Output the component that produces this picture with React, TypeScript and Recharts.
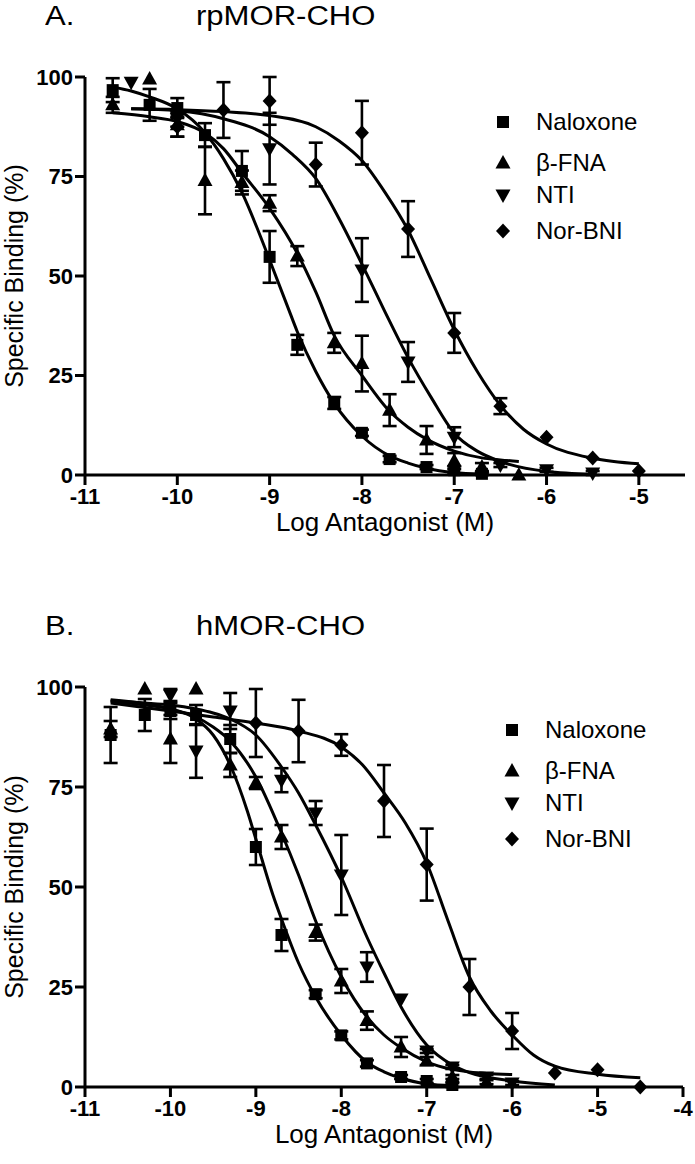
import React from 'react';
import { ComposedChart, Scatter, Line, XAxis, YAxis, ErrorBar, Label } from 'recharts';

const FONT = '"Liberation Sans", Arial, Helvetica, sans-serif';

// ---------- shared ----------
const seriesNames = ['Naloxone', 'β-FNA', 'NTI', 'Nor-BNI'];
const seriesShapes = ['square', 'triUp', 'triDown', 'diamond'];
const yTicks = [0, 25, 50, 75, 100];
const xTicksA = [-11, -10, -9, -8, -7, -6, -5];
const xTicksB = [-11, -10, -9, -8, -7, -6, -5, -4];
const xDomainA = [-11, -4.5];
const xDomainB = [-11, -4];

// ---------- Panel A: rpMOR-CHO ----------
const aNalX = [-10.7, -10.3, -10, -9.7, -9.3, -9, -8.7, -8.3, -8, -7.7, -7.3, -7, -6.7];
const aNalY = [96.7, 93.0, 92.2, 85.4, 76.4, 54.8, 32.7, 18.1, 10.6, 4.0, 2.0, 1.2, 0.3];
const aNalE = [3, 4, 2.5, 3, 5, 6.5, 2.5, 1.5, 0.8, 0.8, 0.5, 1, 0.3];

const aFnaX = [-10.7, -10.3, -10, -9.7, -9.3, -9, -8.7, -8.3, -8, -7.7, -7.3, -7, -6.7, -6.3];
const aFnaY = [93, 99.5, 88, 74, 73.5, 68.3, 55, 33.2, 28, 16.3, 8.8, 3.5, 2.0, 0];
const aFnaE = [2, 0, 3, 8.5, 3, 2, 2.5, 2.5, 7, 4, 3.5, 2, 1, 0];

const aNtiX = [-10.5, -10, -9, -8, -7.5, -7, -6.5, -6, -5.5];
const aNtiY = [98.7, 89.5, 82, 51.5, 28.4, 9.5, 2.5, 1.3, 0.5];
const aNtiE = [0, 2, 9, 8, 5, 2.5, 0.5, 0.5, 0.5];

const aBniX = [-10, -9.5, -9, -8.5, -8, -7.5, -7, -6.5, -6, -5.5, -5];
const aBniY = [87.5, 91.7, 94, 78, 86, 61.8, 35.7, 17.3, 9.5, 4.3, 1.0];
const aBniE = [2.5, 7, 6, 5.5, 8, 7, 5, 2, 0, 0, 0];

const aNalCurveX = [-10.7, -10.5, -10.3, -10, -9.7, -9.5, -9.3, -9.1, -9, -8.8, -8.7, -8.5, -8.3, -8, -7.7, -7.5, -7.3, -7, -6.7];
const aNalCurveY = [97.5, 96.5, 95, 92, 86, 79.5, 71, 60, 54, 42, 36, 26, 18, 9.8, 4.8, 3, 1.7, 0.6, 0.2];
const aFnaCurveX = [-10.7, -10.3, -10, -9.7, -9.5, -9.3, -9, -8.7, -8.5, -8.3, -8, -7.7, -7.5, -7.3, -7, -6.7, -6.5, -6.3];
const aFnaCurveY = [91, 90, 88.8, 85.9, 82, 76, 67, 55.7, 46, 35, 25, 16, 12, 9, 6, 4.3, 3.8, 3.4];
const aNtiCurveX = [-10.5, -10, -9.5, -9, -8.75, -8.5, -8.25, -8, -7.75, -7.5, -7.25, -7, -6.75, -6.5, -6, -5.5];
const aNtiCurveY = [92, 91.5, 89.5, 85, 80.5, 74.5, 64.5, 53, 41, 29.5, 19.5, 10.5, 6, 3.4, 0.9, 0.2];
const aBniCurveX = [-10.5, -10, -9.5, -9, -8.5, -8.25, -8, -7.75, -7.5, -7.25, -7, -6.75, -6.5, -6.25, -6, -5.5, -5];
const aBniCurveY = [92, 91.8, 91.3, 90.3, 87.5, 84, 79, 71, 61.5, 49, 36.5, 26, 17.5, 11.5, 7.8, 4.2, 2.8];

// ---------- Panel B: hMOR-CHO ----------
const bNalX = [-10.7, -10.3, -10, -9.7, -9.3, -9, -8.7, -8.3, -8, -7.7, -7.3, -7, -6.7];
const bNalY = [88, 93, 94, 93, 87, 60, 38, 23.2, 12.9, 5.9, 2.5, 1.5, 0.5];
const bNalE = [7, 4, 2, 2.5, 3.5, 4.5, 4, 1, 1, 0.8, 0.5, 0.5, 0.5];

const bFnaX = [-10.7, -10.3, -10, -9.7, -9.3, -9, -8.7, -8.3, -8, -7.7, -7.3, -7, -6.7, -6.3];
const bFnaY = [89.5, 99.5, 87, 99.5, 80.5, 76, 62.5, 38.6, 26.5, 16.6, 10, 6.5, 2.5, 1.2];
const bFnaE = [2, 0, 6, 0, 3, 1.5, 3, 2, 3, 2.3, 2.5, 1, 0.5, 0.5];

const bNtiX = [-10, -9.7, -9.3, -8.7, -8.3, -8, -7.7, -7.3, -7, -6.7, -6.3, -6];
const bNtiY = [98, 84, 94, 76.7, 68.5, 53, 30, 22, 9, 5, 2.5, 1];
const bNtiE = [1.5, 6.7, 4.5, 3, 3, 10, 3.7, 0, 0.5, 0.5, 0.5, 0.5];

const bBniX = [-9, -8.5, -8, -7.5, -7, -6.5, -6, -5.5, -5, -4.5];
const bBniY = [91, 89, 85.5, 71.5, 55.6, 25, 14, 3.5, 4.3, 0];
const bBniE = [8.5, 7.8, 2.7, 9, 9, 7, 4.5, 0, 0, 0];

const bNalCurveX = [-10.7, -10.3, -10, -9.7, -9.5, -9.3, -9.1, -9, -8.8, -8.7, -8.5, -8.3, -8, -7.7, -7.5, -7.3, -7, -6.7];
const bNalCurveY = [96.8, 95.8, 94.5, 92, 88, 80.5, 69, 62, 48, 42, 31, 22.5, 13, 6.2, 3.8, 2.2, 0.8, 0.3];
const bFnaCurveX = [-10.7, -10.3, -10, -9.7, -9.5, -9.3, -9, -8.7, -8.5, -8.3, -8, -7.7, -7.5, -7.3, -7, -6.7, -6.3, -6];
const bFnaCurveY = [96.5, 95.5, 94.5, 92.5, 90, 86.5, 77.5, 63.5, 53, 41.5, 27.5, 17.5, 13, 9.8, 6.3, 4.4, 3.4, 3.1];
const bNtiCurveX = [-10.7, -10.3, -10, -9.7, -9.5, -9.3, -9, -8.7, -8.5, -8.3, -8, -7.7, -7.5, -7.3, -7, -6.7, -6.5, -6, -5.5];
const bNtiCurveY = [96.5, 96, 95.5, 94.5, 93.5, 92, 88, 80, 73.5, 65.5, 52.5, 37.5, 28.5, 20, 10.5, 5.5, 3.6, 1.5, 0.5];
const bBniCurveX = [-10.7, -10, -9.5, -9, -8.5, -8, -7.75, -7.5, -7.25, -7, -6.75, -6.5, -6.25, -6, -5.75, -5.5, -5, -4.5];
const bBniCurveY = [96, 94, 92.5, 91, 89, 85, 80.5, 73.5, 66, 56, 41.5, 27.5, 19, 13, 8, 5.2, 3.2, 2.3];

// ---------- helpers ----------
const toPoints = (xs: number[], ys: number[], es?: number[]) =>
  xs.map((x, i) => (es ? { x, y: ys[i], err: es[i] } : { x, y: ys[i] }));

function Marker({ kind, cx, cy }: { kind: string; cx: number; cy: number }) {
  if (cx == null || cy == null) return null;
  if (kind === 'square') return <rect x={cx - 6} y={cy - 6} width={12} height={12} fill="#000" />;
  if (kind === 'triUp')
    return <polygon points={`${cx},${cy - 8} ${cx + 7.5},${cy + 5.5} ${cx - 7.5},${cy + 5.5}`} fill="#000" />;
  if (kind === 'triDown')
    return <polygon points={`${cx - 7.5},${cy - 5.5} ${cx + 7.5},${cy - 5.5} ${cx},${cy + 8}`} fill="#000" />;
  return <polygon points={`${cx},${cy - 7.5} ${cx + 7},${cy} ${cx},${cy + 7.5} ${cx - 7},${cy}`} fill="#000" />;
}

const shapeFor = (kind: string) => (props: any) => <Marker kind={kind} cx={props.cx} cy={props.cy} />;

const XAxisLabel = (text: string) => (props: any) => {
  const vb = props.viewBox || {};
  return (
    <text x={vb.x + vb.width / 2} y={vb.y + 56} textAnchor="middle" fontSize={26} fontFamily={FONT} fill="#000">
      {text}
    </text>
  );
};

const YAxisLabel = (text: string) => (props: any) => {
  const vb = props.viewBox || {};
  const cx = 23;
  const cy = vb.y + vb.height / 2;
  return (
    <text
      x={cx}
      y={cy}
      transform={`rotate(-90 ${cx} ${cy})`}
      textAnchor="middle"
      fontSize={25}
      fontFamily={FONT}
      fill="#000"
    >
      {text}
    </text>
  );
};

type PanelProps = {
  top: number;
  height: number;
  margin: { top: number; right: number; left: number; bottom: number };
  xDomain: number[];
  xTicks: number[];
  points: any[][];
  curves: any[][];
  letter: string;
  title: string;
  titleBaseline: number;
  legendTop: number;
  legendLeft: number;
};

const legendRowCenters = [0, 41, 73, 109];

function Panel(p: PanelProps) {
  const tickStyle = { fill: '#000', fontSize: 22, fontWeight: 700, fontFamily: FONT };
  const titleStyle: React.CSSProperties = {
    position: 'absolute',
    top: p.titleBaseline - 25,
    fontFamily: FONT,
    fontSize: 27,
    lineHeight: '32px',
    color: '#000',
    whiteSpace: 'nowrap',
    transform: 'scaleX(1.15)',
    transformOrigin: 'left center',
  };
  return (
    <>
      <div style={{ ...titleStyle, left: 45 }}>{p.letter}</div>
      <div style={{ ...titleStyle, left: 196 }}>{p.title}</div>
      <div style={{ position: 'absolute', left: 0, top: p.top }}>
        <ComposedChart width={695} height={p.height} margin={p.margin}>
          <XAxis
            type="number"
            dataKey="x"
            domain={p.xDomain}
            ticks={p.xTicks}
            interval={0}
            height={60}
            tickSize={10}
            tickMargin={3}
            axisLine={{ stroke: '#000', strokeWidth: 3 }}
            tickLine={{ stroke: '#000', strokeWidth: 3 }}
            tick={tickStyle}
          >
            <Label content={XAxisLabel('Log Antagonist (M)')} />
          </XAxis>
          <YAxis
            type="number"
            dataKey="y"
            domain={[0, 100]}
            ticks={yTicks}
            interval={0}
            width={85}
            tickSize={10}
            tickMargin={2}
            axisLine={{ stroke: '#000', strokeWidth: 3 }}
            tickLine={{ stroke: '#000', strokeWidth: 3 }}
            tick={tickStyle}
          >
            <Label content={YAxisLabel('Specific Binding (%)')} />
          </YAxis>
          {p.curves.map((c, i) => (
            <Line
              key={`c${i}`}
              data={c}
              dataKey="y"
              type="monotone"
              dot={false}
              activeDot={false}
              stroke="#000"
              strokeWidth={3}
              isAnimationActive={false}
              legendType="none"
            />
          ))}
          {p.points.map((d, i) => (
            <Scatter
              key={`s${i}`}
              name={seriesNames[i]}
              data={d}
              dataKey="y"
              shape={shapeFor(seriesShapes[i])}
              isAnimationActive={false}
            >
              <ErrorBar dataKey="err" direction="y" width={7} stroke="#000" strokeWidth={2.6} />
            </Scatter>
          ))}
        </ComposedChart>
      </div>
      <div style={{ position: 'absolute', left: p.legendLeft, top: p.legendTop }}>
        {seriesNames.map((name, i) => (
          <div
            key={name}
            style={{
              position: 'absolute',
              left: 0,
              top: legendRowCenters[i] - 15,
              height: 30,
              display: 'flex',
              alignItems: 'center',
              whiteSpace: 'nowrap',
            }}
          >
            <svg width={20} height={30} style={{ display: 'block' }}>
              <Marker kind={seriesShapes[i]} cx={10} cy={15} />
            </svg>
            <span
              style={{
                marginLeft: 23,
                fontFamily: FONT,
                fontSize: 24,
                lineHeight: '30px',
                color: '#000',
              }}
            >
              {name}
            </span>
          </div>
        ))}
      </div>
    </>
  );
}

export default function App() {
  const pointsA = [
    toPoints(aNalX, aNalY, aNalE),
    toPoints(aFnaX, aFnaY, aFnaE),
    toPoints(aNtiX, aNtiY, aNtiE),
    toPoints(aBniX, aBniY, aBniE),
  ];
  const curvesA = [
    toPoints(aNalCurveX, aNalCurveY),
    toPoints(aFnaCurveX, aFnaCurveY),
    toPoints(aNtiCurveX, aNtiCurveY),
    toPoints(aBniCurveX, aBniCurveY),
  ];
  const pointsB = [
    toPoints(bNalX, bNalY, bNalE),
    toPoints(bFnaX, bFnaY, bFnaE),
    toPoints(bNtiX, bNtiY, bNtiE),
    toPoints(bBniX, bBniY, bBniE),
  ];
  const curvesB = [
    toPoints(bNalCurveX, bNalCurveY),
    toPoints(bFnaCurveX, bFnaCurveY),
    toPoints(bNtiCurveX, bNtiCurveY),
    toPoints(bBniCurveX, bBniCurveY),
  ];
  return (
    <div style={{ position: 'absolute', left: 0, top: 0, width: 695, height: 1164, background: '#fff', overflow: 'hidden' }}>
      <Panel
        top={0}
        height={560}
        margin={{ top: 77, right: 10, left: 0, bottom: 25 }}
        xDomain={xDomainA}
        xTicks={xTicksA}
        points={pointsA}
        curves={curvesA}
        letter="A."
        title="rpMOR-CHO"
        titleBaseline={25}
        legendTop={122}
        legendLeft={493}
      />
      <Panel
        top={600}
        height={564}
        margin={{ top: 87, right: 12, left: 0, bottom: 17 }}
        xDomain={xDomainB}
        xTicks={xTicksB}
        points={pointsB}
        curves={curvesB}
        letter="B."
        title="hMOR-CHO"
        titleBaseline={635}
        legendTop={730}
        legendLeft={502}
      />
    </div>
  );
}
